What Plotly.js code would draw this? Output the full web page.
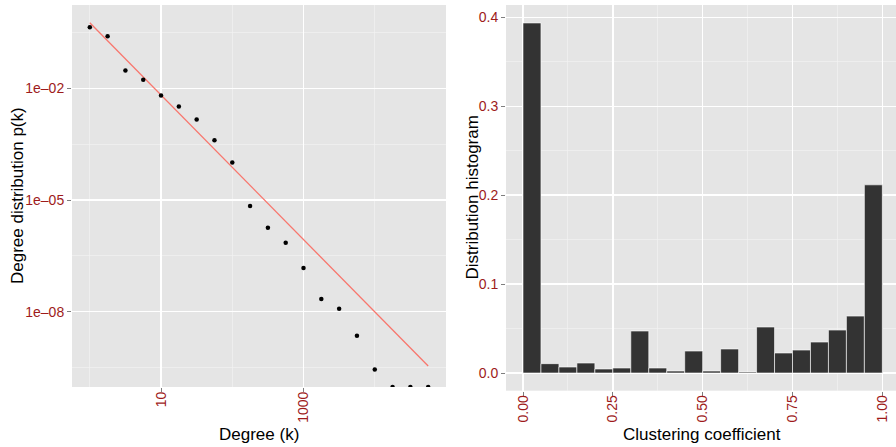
<!DOCTYPE html>
<html>
<head>
<meta charset="utf-8">
<script src="https://cdn.plot.ly/plotly-3.0.1.min.js"></script>
<style>html,body{margin:0;padding:0;background:#fff;}#chart{width:896px;height:447px;}</style>
</head>
<body>
<div id="chart"></div>
<script>
// ---- Degree distribution (left panel) ----
const degreeK = [1, 1.778, 3.162, 5.623, 10, 17.78, 31.62, 56.23, 100, 177.8, 316.2, 562.3, 1000, 1778, 3162, 5623, 10000, 17783, 31623, 56234];
const degreeP = [0.436, 0.251, 0.0302, 0.0170, 0.00646, 0.00324, 0.00145, 0.000407, 0.000102, 6.9e-6, 1.82e-6, 7.1e-7, 1.51e-7, 2.19e-8, 1.20e-8, 2.29e-9, 2.8e-10, 0, 0, 0];
const fitK = [1, 56234];
const fitP = [0.579, 3.49e-10];
const degXTicks = [10, 1000];
const degXTickText = ['10', '1000'];
const degYTicks = [1e-2, 1e-5, 1e-8];
const degYTickText = ['1e\u201302', '1e\u201305', '1e\u201308'];

// ---- Clustering coefficient histogram (right panel) ----
const binCenters = [0.025, 0.075, 0.125, 0.175, 0.225, 0.275, 0.325, 0.375, 0.425, 0.475, 0.525, 0.575, 0.625, 0.675, 0.725, 0.775, 0.825, 0.875, 0.925, 0.975];
const binHeights = [0.3936, 0.0105, 0.0067, 0.0112, 0.0045, 0.0056, 0.0472, 0.0056, 0.0022, 0.0247, 0.0022, 0.0270, 0.0011, 0.0517, 0.0225, 0.0258, 0.0348, 0.0483, 0.0640, 0.2116];
const clXTicks = [0, 0.25, 0.5, 0.75, 1];
const clXTickText = ['0.00', '0.25', '0.50', '0.75', '1.00'];
const clYTicks = [0, 0.1, 0.2, 0.3, 0.4];
const clYTickText = ['0.0', '0.1', '0.2', '0.3', '0.4'];

const W = 896, H = 447;
const FONT = 'Liberation Sans, Arial, Helvetica, sans-serif';
const TICKCOL = '#9E1B1B';
const degYRange = [-10.02, 0.24];

// zero probabilities cannot be shown on a log scale: place them on the panel floor (as ggplot does with -Inf)
const floorVal = Math.pow(10, degYRange[0]);
const degreePPlot = degreeP.map(v => v > 0 ? v : floorVal);

const commonAxis = {
  showline: false, zeroline: false,
  ticks: 'outside', ticklen: 4, tickwidth: 1, tickcolor: '#7F7F7F',
  tickfont: {family: FONT, size: 14, color: TICKCOL},
  gridcolor: '#FFFFFF', gridwidth: 1.4,
  tickmode: 'array'
};
const minorGrid = {showgrid: true, gridcolor: '#F2F2F2', gridwidth: 0.7, ticks: ''};
const titleFont = {family: FONT, size: 17, color: '#000'};

const traces = [
  {
    x: fitK, y: fitP, type: 'scatter', mode: 'lines',
    line: {color: '#F8766D', width: 1.3},
    xaxis: 'x', yaxis: 'y', hoverinfo: 'skip', showlegend: false
  },
  {
    x: degreeK, y: degreePPlot, type: 'scatter', mode: 'markers',
    marker: {color: '#000', size: 4.5},
    xaxis: 'x', yaxis: 'y', showlegend: false, cliponaxis: true
  },
  {
    x: binCenters, y: binHeights, type: 'bar', width: 0.05,
    marker: {color: '#333333', line: {color: '#FFFFFF', width: 0.6}},
    xaxis: 'x2', yaxis: 'y2', showlegend: false
  }
];

const annot = (text, x, y, angle) => ({
  text: text, xref: 'paper', yref: 'paper', x: x / W, y: 1 - y / H,
  xanchor: 'center', yanchor: 'middle', showarrow: false, textangle: angle,
  font: titleFont
});

const layout = {
  width: W, height: H,
  margin: {l: 0, r: 0, t: 0, b: 0},
  paper_bgcolor: '#FFFFFF', plot_bgcolor: '#E5E5E5',
  font: {family: FONT},
  showlegend: false, bargap: 0,
  xaxis: Object.assign({}, commonAxis, {
    type: 'log', domain: [72 / W, 446 / W], range: [-0.25, 5.0], anchor: 'y',
    tickvals: degXTicks, ticktext: degXTickText, tickangle: -90, ticklabelstandoff: -6,
    minor: Object.assign({tickmode: 'array', tickvals: [1, 100, 10000]}, minorGrid)
  }),
  yaxis: Object.assign({}, commonAxis, {
    type: 'log', domain: [1 - 387 / H, 1 - 5 / H], range: degYRange, anchor: 'x',
    tickvals: degYTicks, ticktext: degYTickText,
    minor: Object.assign({tickmode: 'array', tickvals: [Math.pow(10, -0.5), Math.pow(10, -3.5), Math.pow(10, -6.5), Math.pow(10, -9.5)]}, minorGrid)
  }),
  xaxis2: Object.assign({}, commonAxis, {
    domain: [506 / W, 1], range: [-0.0473, 1.038], anchor: 'y2',
    tickvals: clXTicks, ticktext: clXTickText, tickangle: -90, ticklabelstandoff: -6,
    minor: Object.assign({tickmode: 'array', tickvals: [0.125, 0.375, 0.625, 0.875]}, minorGrid)
  }),
  yaxis2: Object.assign({}, commonAxis, {
    domain: [1 - 390.7 / H, 1 - 5 / H], range: [-0.0199, 0.4138], anchor: 'x2',
    tickvals: clYTicks, ticktext: clYTickText,
    minor: Object.assign({tickmode: 'array', tickvals: [0.05, 0.15, 0.25, 0.35]}, minorGrid)
  }),
  annotations: [
    annot('Degree (k)', 259, 434, 0),
    annot('Degree distribution p(k)', 18, 196, -90),
    annot('Clustering coefficient', 702, 434, 0),
    annot('Distribution histogram', 471.5, 198, -90)
  ]
};

Plotly.newPlot('chart', traces, layout, {staticPlot: true, displayModeBar: false});
</script>
</body>
</html>
